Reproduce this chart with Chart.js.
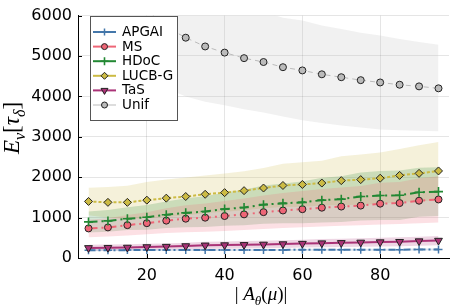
<!DOCTYPE html>
<html>
<head>
<meta charset="utf-8">
<script src="https://cdn.jsdelivr.net/npm/chart.js@4.4.0/dist/chart.umd.min.js"></script>
<style>
html, body { margin: 0; padding: 0; background: #fff; }
</style>
</head>
<body>
<canvas id="chart" width="458" height="305"></canvas>
<script>
// x positions (|A_theta(mu)|)
const xVals = [5, 10, 15, 20, 25, 30, 35, 40, 45, 50, 55, 60, 65, 70, 75, 80, 85, 90, 95];
const xTicks = [20, 40, 60, 80];
const yTicks = [0, 1000, 2000, 3000, 4000, 5000, 6000];

// mean and band (lower / upper) for each algorithm
const apgaiMean = [193, 194, 195, 196, 196, 197, 198, 199, 200, 200, 201, 202, 203, 204, 205, 206, 207, 208, 210];
const apgaiLo   = [170, 171, 172, 173, 173, 174, 175, 176, 176, 177, 177, 178, 179, 180, 180, 181, 182, 183, 184];
const apgaiHi   = [216, 217, 218, 219, 219, 220, 221, 222, 224, 223, 225, 226, 227, 228, 230, 231, 232, 233, 236];

const msMean = [732, 757, 813, 862, 925, 973, 998, 1039, 1080, 1135, 1176, 1208, 1245, 1273, 1297, 1345, 1360, 1418, 1449];
const msLo   = [515, 530, 560, 590, 620, 640, 650, 670, 690, 720, 740, 760, 780, 800, 810, 830, 840, 860, 877];
const msHi   = [949, 984, 1066, 1134, 1230, 1306, 1346, 1408, 1470, 1550, 1612, 1656, 1710, 1746, 1784, 1860, 1880, 1976, 2021];

const hdocMean = [894, 918, 973, 1007, 1070, 1118, 1150, 1210, 1250, 1321, 1353, 1377, 1432, 1457, 1522, 1546, 1553, 1626, 1643];
const hdocLo   = [634, 650, 690, 700, 740, 760, 770, 800, 810, 850, 860, 860, 880, 890, 930, 940, 940, 1020, 1040];
const hdocHi   = [1154, 1186, 1256, 1314, 1400, 1476, 1530, 1620, 1690, 1792, 1846, 1894, 1984, 2024, 2114, 2152, 2166, 2232, 2246];

const lucbMean = [1400, 1377, 1377, 1432, 1481, 1522, 1577, 1618, 1667, 1732, 1795, 1820, 1855, 1915, 1940, 1975, 2045, 2095, 2155];
const lucbLo   = [1060, 994, 964, 984, 1022, 1054, 1114, 1146, 1184, 1234, 1260, 1270, 1300, 1310, 1320, 1340, 1390, 1400, 1440];
const lucbHi   = [1740, 1760, 1790, 1880, 1940, 1990, 2040, 2090, 2150, 2230, 2330, 2370, 2410, 2520, 2560, 2610, 2700, 2790, 2870];

const tasMean = [250, 255, 260, 272, 282, 297, 314, 320, 326, 335, 345, 356, 368, 375, 385, 394, 403, 418, 432];
const tasLo   = [180, 185, 190, 198, 205, 215, 228, 232, 236, 243, 250, 258, 266, 272, 280, 286, 292, 303, 315];
const tasHi   = [330, 335, 340, 350, 362, 380, 400, 410, 418, 428, 440, 452, 468, 478, 490, 500, 512, 528, 545];

const unifMean = [9000, 7600, 6700, 6150, 5720, 5453, 5236, 5084, 4947, 4851, 4723, 4643, 4547, 4475, 4402, 4345, 4289, 4248, 4200];
const unifLo   = [6500, 5600, 4900, 4500, 4200, 4000, 3870, 3780, 3680, 3600, 3500, 3410, 3340, 3280, 3230, 3180, 3160, 3150, 3140];
const unifHi   = [11500, 9600, 8500, 7800, 7240, 6906, 6602, 6388, 6214, 6102, 5946, 5876, 5754, 5670, 5574, 5510, 5418, 5346, 5280];

const series = [
    { label: 'APGAI',  mean: apgaiMean, lo: apgaiLo, hi: apgaiHi, color: '#4477AA', dash: [7, 3, 2, 3], width: 2, point: 'cross', radius: 4, pBorder: 1.5 },
    { label: 'MS',     mean: msMean,    lo: msLo,    hi: msHi,    color: '#EE6677', dash: [9, 4, 2, 4], width: 2, point: 'circle', radius: 3.5, pBorder: 1 },
    { label: 'HDoC',   mean: hdocMean,  lo: hdocLo,  hi: hdocHi,  color: '#228833', dash: [9, 4, 2, 4], width: 2, point: 'cross', radius: 4.5, pBorder: 1.6 },
    { label: 'LUCB-G', mean: lucbMean,  lo: lucbLo,  hi: lucbHi,  color: '#CCBB44', dash: [3, 2], width: 2, point: 'rectRot', radius: 4, pBorder: 1 },
    { label: 'TaS',    mean: tasMean,   lo: tasLo,   hi: tasHi,   color: '#AA3377', dash: [], width: 2, point: 'triangle', radius: 4.5, pBorder: 1, rotation: 180 },
    { label: 'Unif',   mean: unifMean,  lo: unifLo,  hi: unifHi,  color: '#BBBBBB', dash: [5, 4], width: 1, point: 'circle', radius: 3.5, pBorder: 1 }
];

function pts(arr) {
    return xVals.map(function (x, i) { return { x: x, y: arr[i] }; });
}
function rgba(hex, a) {
    const n = parseInt(hex.slice(1), 16);
    return 'rgba(' + (n >> 16) + ',' + ((n >> 8) & 255) + ',' + (n & 255) + ',' + a + ')';
}

const datasets = [];
// bands first
series.forEach(function (s, k) {
    const loIndex = datasets.length;
    datasets.push({
        data: pts(s.lo), borderWidth: 0, pointRadius: 0, fill: false, order: 20 + k
    });
    datasets.push({
        data: pts(s.hi), borderWidth: 0, pointRadius: 0,
        fill: { target: loIndex }, backgroundColor: rgba(s.color, 0.2), order: 20 + k
    });
});
// mean lines
series.forEach(function (s, k) {
    const isCross = s.point === 'cross';
    datasets.push({
        label: s.label,
        data: pts(s.mean),
        borderColor: s.color,
        borderWidth: s.width,
        borderDash: s.dash,
        fill: false,
        pointStyle: s.point,
        pointRadius: s.radius,
        pointRotation: s.rotation || 0,
        pointBackgroundColor: s.color,
        pointBorderColor: isCross ? s.color : '#222',
        pointBorderWidth: s.pBorder,
        order: 10 - k
    });
});

const mathFont = '"Liberation Serif", "DejaVu Serif", serif';

function drawMath(ctx, parts, cx, cy, size) {
    let total = 0;
    parts.forEach(function (p) {
        const fs = p.sub ? size * 0.7 : size;
        ctx.font = (p.italic ? 'italic ' : '') + fs + 'px ' + mathFont;
        p.w = ctx.measureText(p.t).width;
        total += p.w;
    });
    let x = cx - total / 2;
    ctx.textAlign = 'left';
    ctx.textBaseline = 'alphabetic';
    parts.forEach(function (p) {
        const fs = p.sub ? size * 0.7 : size;
        ctx.font = (p.italic ? 'italic ' : '') + fs + 'px ' + mathFont;
        ctx.fillText(p.t, x, cy + (p.sub ? size * 0.25 : 0));
        x += p.w;
    });
}

const extrasPlugin = {
    id: 'extras',
    afterDraw: function (chart) {
        const ctx = chart.ctx;
        const xs = chart.scales.x;
        const ys = chart.scales.y;
        const area = chart.chartArea;
        ctx.save();

        // inward tick marks
        ctx.strokeStyle = '#000';
        ctx.lineWidth = 1;
        ctx.beginPath();
        xTicks.forEach(function (t) {
            const px = Math.round(xs.getPixelForValue(t)) + 0.5;
            ctx.moveTo(px, area.bottom);
            ctx.lineTo(px, area.bottom - 4);
        });
        yTicks.forEach(function (t) {
            const py = Math.round(ys.getPixelForValue(t)) + 0.5;
            ctx.moveTo(area.left, py);
            ctx.lineTo(area.left + 4, py);
        });
        ctx.stroke();

        // legend box
        ctx.fillStyle = '#fff';
        ctx.fillRect(90.5, 16.5, 87, 104);
        ctx.strokeStyle = '#555';
        ctx.strokeRect(90.5, 16.5, 87, 104);
        series.forEach(function (s, i) {
            const y = 32 + i * 14.6;
            ctx.strokeStyle = s.color;
            ctx.lineWidth = s.width;
            ctx.setLineDash([]);
            ctx.beginPath();
            ctx.moveTo(93, y);
            ctx.lineTo(116, y);
            ctx.stroke();
            ctx.fillStyle = s.color;
            ctx.strokeStyle = s.point === 'cross' ? s.color : '#222';
            ctx.lineWidth = s.pBorder;
            Chart.helpers.drawPoint(ctx, {
                pointStyle: s.point, radius: s.radius - 0.5, rotation: s.rotation || 0, borderWidth: s.pBorder
            }, 104.5, y);
            ctx.fillStyle = '#000';
            ctx.font = '13.5px "DejaVu Sans"';
            ctx.textAlign = 'left';
            ctx.textBaseline = 'middle';
            ctx.fillText(s.label, 122, y + 0.5);
        });

        // axis titles
        ctx.fillStyle = '#000';
        drawMath(ctx, [
            { t: '| ' }, { t: 'A', italic: true }, { t: 'θ', italic: true, sub: true },
            { t: '(' }, { t: 'μ', italic: true }, { t: ')|' }
        ], 261, 300, 19);

        ctx.translate(19, 128);
        ctx.rotate(-Math.PI / 2);
        drawMath(ctx, [
            { t: 'E', italic: true }, { t: 'ν', italic: true, sub: true },
            { t: '[' }, { t: 'τ', italic: true }, { t: 'δ', italic: true, sub: true }, { t: ']' }
        ], 0, 0, 23);
        ctx.restore();
    }
};

new Chart(document.getElementById('chart').getContext('2d'), {
    type: 'line',
    data: { datasets: datasets },
    plugins: [extrasPlugin],
    options: {
        responsive: false,
        animation: false,
        devicePixelRatio: 1,
        layout: { padding: { left: 0, right: 9, top: 9, bottom: 0 } },
        plugins: {
            legend: { display: false },
            tooltip: { enabled: false },
            filler: { propagate: false }
        },
        scales: {
            x: {
                type: 'linear',
                min: 2.3,
                max: 97.7,
                afterBuildTicks: function (scale) {
                    scale.ticks = xTicks.map(function (v) { return { value: v }; });
                },
                afterFit: function (scale) { scale.height = 47; },
                grid: { color: 'rgba(0,0,0,0.1)', drawTicks: false },
                border: { color: '#000', width: 1 },
                ticks: {
                    color: '#000',
                    padding: 8,
                    maxRotation: 0,
                    font: { family: 'DejaVu Sans', size: 16 }
                }
            },
            y: {
                min: 0,
                max: 6000,
                afterBuildTicks: function (scale) {
                    scale.ticks = yTicks.map(function (v) { return { value: v }; });
                },
                afterFit: function (scale) { scale.width = 78; },
                grid: { color: 'rgba(0,0,0,0.1)', drawTicks: false },
                border: { color: '#000', width: 1 },
                ticks: {
                    color: '#000',
                    padding: 6,
                    font: { family: 'DejaVu Sans', size: 16 },
                    callback: function (v) { return String(v); }
                }
            }
        }
    }
});
</script>
</body>
</html>
